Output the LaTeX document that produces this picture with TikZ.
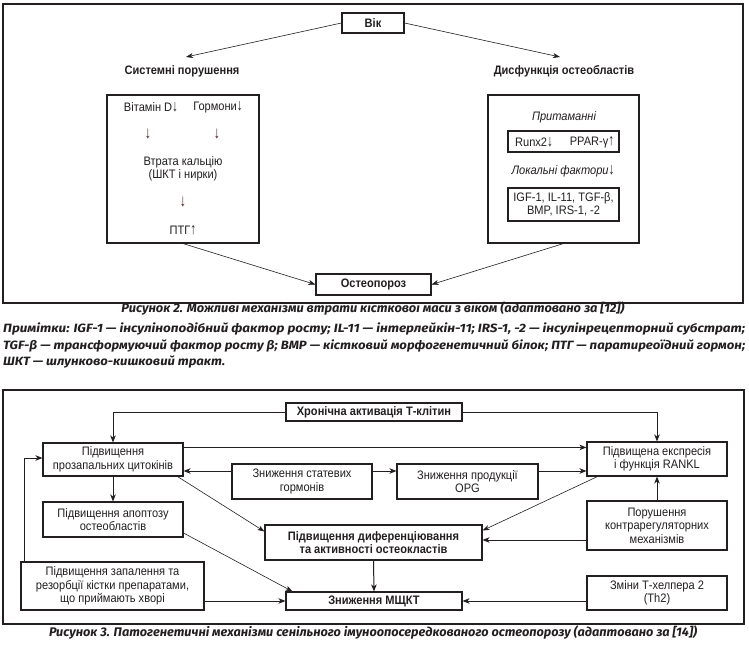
\documentclass[tikz,border=0pt]{standalone}
\usepackage{fontspec}
\setmainfont{Liberation Sans}[FakeStretch=0.9]
\newfontfamily\capfont{Fira Sans}
\usetikzlibrary{arrows.meta,calc}
\definecolor{ink}{HTML}{231F20}
\newcommand\myDn{\scalebox{1.05}[1.3]{↓}}
\newcommand\myUp{\scalebox{1.05}[1.3]{↑}}
\tikzset{
  box/.style={draw=ink, line width=1.1pt, inner sep=0pt, align=center, text=ink,
    font=\fontsize{12.3}{13.6}\selectfont},
  bbox/.style={box, font=\bfseries\fontsize{12.3}{13.6}\selectfont},
  txt/.style={inner sep=0pt, align=center, text=ink, font=\fontsize{12.3}{13.6}\selectfont},
  btxt/.style={txt, font=\bfseries\fontsize{12.3}{13.6}\selectfont},
  itxt/.style={txt, font=\itshape\fontsize{12.3}{13.6}\selectfont},
  arrtxt/.style={txt, text=ink!80!red, font=\fontsize{13}{14}\selectfont},
  frame/.style={draw=ink, line width=1.1pt},
  arr/.style={draw=ink, line width=1pt, -{Stealth[length=7pt,width=5.5pt,inset=2pt]}},
  arrthin/.style={draw=ink, line width=0.6pt, -{Stealth[length=7pt,width=5pt,inset=2pt]}},
  capt/.style={inner sep=0pt, text=ink, font=\capfont\bfseries\itshape\fontsize{12.5}{14}\selectfont},
  notes/.style={inner sep=0pt, anchor=west, text=ink, font=\capfont\bfseries\itshape\fontsize{12}{14}\selectfont},
}
\begin{document}
\begin{tikzpicture}[x=1pt,y=-1pt]
\useasboundingbox[fill=white] (0,0) rectangle (749,650);
% ---------------- Figure 2 ----------------
\draw[frame] (3,4) rectangle (743,303);
\node[bbox, minimum width=62pt, minimum height=20pt] (vik) at (373,23) {Вік};
\node[btxt] (sys) at (182,71) {Системні порушення};
\node[btxt] (dys) at (564,71) {Дисфункція остеобластів};
\coordinate (sysin) at (186,57);
\coordinate (dysin) at (560,57);
\node[box, minimum width=152pt, minimum height=148pt] (lbox) at (183,169) {};
\node[txt] (vitd) at (151,107) {Вітамін D\myDn};
\node[txt] (horm) at (218,107) {Гормони\myDn};
\node[arrtxt] (a1) at (148,134) {\myDn};
\node[arrtxt] (a2) at (217,134) {\myDn};
\node[txt] (ca) at (183,169) {Втрата кальцію\\(ШКТ і нирки)};
\node[arrtxt] (a3) at (183,202) {\myDn};
\node[txt] (ptg) at (183,230) {ПТГ\myUp};
\node[box, minimum width=151pt, minimum height=148pt] (rbox) at (563.5,169) {};
\node[itxt] (prit) at (564,117) {Притаманні};
\node[box, minimum width=111pt, minimum height=21pt] (runxb) at (563.5,141.5) {};
\node[txt] (runx) at (534,142) {Runx2\myDn};
\node[txt] (ppar) at (592,142) {PPAR-γ\myUp};
\node[itxt] (lok) at (563,171) {Локальні фактори\myDn};
\node[box, minimum width=111pt, minimum height=33pt] (igf) at (563.5,204.5) {IGF-1, IL-11, TGF-β,\\BMP, IRS-1, -2};
\node[bbox, minimum width=115pt, minimum height=21pt] (ost) at (373.5,284.5) {Остеопороз};
\draw[arrthin] (vik.west) -- (sysin);
\draw[arrthin] (vik.east) -- (dysin);
\draw[arrthin] (lbox.south) -- (ost.west);
\draw[arrthin] (rbox.south) -- (ost.east);
\node[capt] (cap2) at (373,309) {\resizebox{503pt}{\height}{Рисунок 2. Можливі механізми втрати кісткової маси з віком (адаптовано за [12])}};
\node[notes] (n1) at (3,329) {\resizebox{742pt}{\height}{Примітки: IGF-1 — інсуліноподібний фактор росту; IL-11 — інтерлейкін-11; IRS-1, -2 — інсулінрецепторний субстрат;}};
\node[notes] (n2) at (3,346) {\resizebox{742pt}{\height}{TGF-β — трансформуючий фактор росту β; BMP — кістковий морфогенетичний білок; ПТГ — паратиреоїдний гормон;}};
\node[notes] (n3) at (3,362) {\resizebox{222pt}{\height}{ШКТ — шлунково-кишковий тракт.}};
% ---------------- Figure 3 ----------------
\draw[frame] (3,390) rectangle (744,624);
\node[bbox, minimum width=176pt, minimum height=18pt] (tcell) at (374,412) {Хронічна активація Т-клітин};
\node[box, minimum width=140pt, minimum height=33pt] (cyt) at (113,459.5) {Підвищення\\прозапальних цитокінів};
\node[box, minimum width=140pt, minimum height=34pt] (rankl) at (657,459) {Підвищена експресія\\і функція RANKL};
\node[box, minimum width=140pt, minimum height=35pt] (sex) at (302,481.5) {Зниження статевих\\гормонів};
\node[box, minimum width=141pt, minimum height=35pt] (opg) at (467.5,481.5) {Зниження продукції\\OPG};
\node[box, minimum width=140pt, minimum height=35pt] (apop) at (113,519.5) {Підвищення апоптозу\\остеобластів};
\node[bbox, minimum width=217pt, minimum height=35pt] (ocl) at (373.5,542.5) {Підвищення диференціювання\\та активності остеокластів};
\node[box, minimum width=140pt, minimum height=49pt] (contr) at (657,525.5) {Порушення\\контрарегуляторних\\механізмів};
\node[box, minimum width=183pt, minimum height=48pt] (infl) at (112.5,586) {Підвищення запалення та\\резорбції кістки препаратами,\\що приймають хворі};
\node[bbox, minimum width=176pt, minimum height=18pt] (bmd) at (374,601) {Зниження МЩКТ};
\node[box, minimum width=140pt, minimum height=34pt] (th2) at (657,593) {Зміни Т-хелпера 2\\(Th2)};
\coordinate (lx) at (24,0);
\draw[arr] (tcell.west) -| (cyt.north);
\draw[arr] (tcell.east) -| (rankl.north);
\draw[arr] ([yshift=-5pt]cyt.north east) -- ([yshift=-5pt]cyt.north east -| rankl.west);
\draw[arr] ([yshift=10.5pt]sex.west) -- ([yshift=10.5pt]sex.west -| cyt.east);
\draw[arr] ([yshift=10.5pt]sex.east) -- ([yshift=10.5pt]sex.east -| opg.west);
\draw[arr] ([yshift=10.5pt]opg.east) -- ([yshift=10.5pt]opg.east -| rankl.west);
\draw[arr] (cyt.south) -- (apop.north);
\draw[arr] (infl.north -| lx) |- ([yshift=1.5pt]cyt.west);
\draw[arrthin] ([xshift=-6pt]cyt.south east) -- ([yshift=11pt]ocl.west);
\draw[arrthin] ([xshift=11pt]rankl.south west) -- ([yshift=12pt]ocl.east);
\draw[arr] (contr.north) -- (rankl.south);
\draw[arr] ([yshift=-14.5pt]contr.west) -- ([yshift=-14.5pt]contr.west -| ocl.east);
\draw[arr] (bmd.west -| infl.east) -- (bmd.west);
\draw[arrthin] ([yshift=-13.5pt]apop.east) -- ([xshift=7pt]bmd.north west);
\draw[arr] (ocl.south) -- (bmd.north);
\draw[arr] (bmd.east -| th2.west) -- (bmd.east);
\node[capt] (cap3) at (373,633) {\resizebox{648pt}{\height}{Рисунок 3. Патогенетичні механізми сенільного імуноопосередкованого остеопорозу (адаптовано за [14])}};
\end{tikzpicture}
\end{document}
